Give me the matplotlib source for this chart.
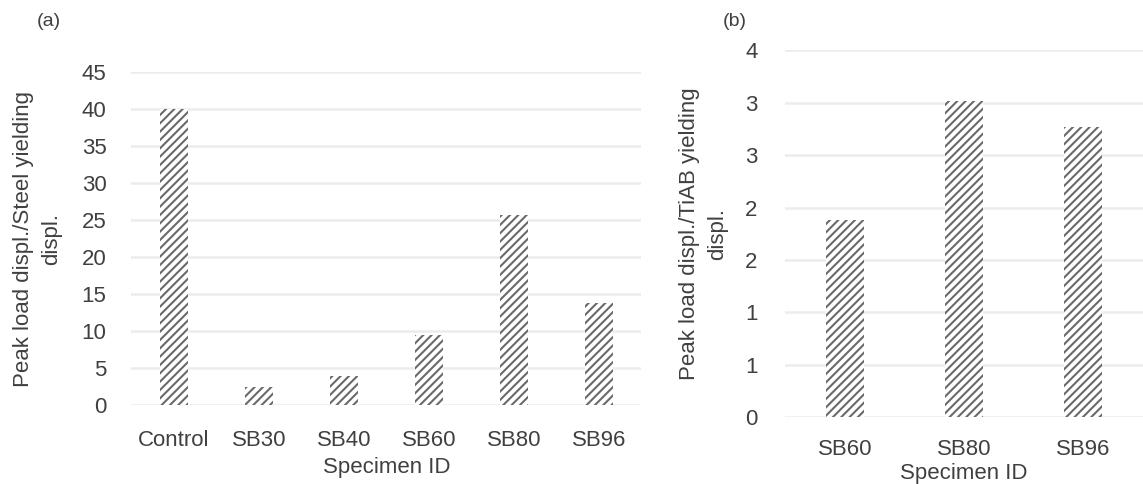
import numpy as np
import matplotlib
matplotlib.use("Agg")
import matplotlib.pyplot as plt
from matplotlib.ticker import MultipleLocator, FuncFormatter

# Ratio of peak-load displacement to steel yielding displacement
specimens_a = ["Control", "SB30", "SB40", "SB60", "SB80", "SB96"]
ratio_steel = [40.0, 2.4, 4.0, 9.5, 25.7, 13.8]

# Ratio of peak-load displacement to TiAB yielding displacement
specimens_b = ["SB60", "SB80", "SB96"]
ratio_tiab = [1.88, 3.02, 2.77]

plt.rcParams["font.family"] = ["Liberation Sans", "DejaVu Sans"]
plt.rcParams["hatch.linewidth"] = 1.5

TEXT = "#404040"
HATCH = "#6a6a6a"
GRID = "#ececec"

fig = plt.figure(figsize=(11.43, 4.84), dpi=100)
fig.patch.set_facecolor("white")


def style_axes(ax):
    for s in ax.spines.values():
        s.set_visible(False)
    ax.tick_params(axis="both", length=0, colors=TEXT, labelsize=16)
    ax.tick_params(axis="y", pad=18)
    ax.tick_params(axis="x", pad=18)
    ax.yaxis.grid(True, color=GRID, linewidth=1.8)
    ax.set_axisbelow(True)


# (a) steel yielding
ax1 = fig.add_axes([0.115, 0.163, 0.446, 0.688])
x1 = np.arange(len(specimens_a))
ax1.bar(x1, ratio_steel, width=0.33, facecolor="white", edgecolor=HATCH,
        hatch="////", linewidth=0)
ax1.set_xlim(-0.5, len(specimens_a) - 0.5)
ax1.set_ylim(0, 45)
ax1.yaxis.set_major_locator(MultipleLocator(5))
ax1.set_xticks(x1)
ax1.set_xticklabels(specimens_a)
style_axes(ax1)
ax1.set_xlabel("Specimen ID", fontsize=16, color=TEXT, labelpad=4)
ax1.set_ylabel("Peak load displ./Steel yielding\ndispl.", fontsize=16,
               color=TEXT, labelpad=14, linespacing=1.45)
fig.text(0.032, 0.955, "(a)", fontsize=14, color=TEXT, va="center")

# (b) TiAB yielding
ax2 = fig.add_axes([0.687, 0.138, 0.313, 0.758])
x2 = np.arange(len(specimens_b))
ax2.bar(x2, ratio_tiab, width=0.32, facecolor="white", edgecolor=HATCH,
        hatch="////", linewidth=0)
ax2.set_xlim(-0.5, len(specimens_b) - 0.5)
ax2.set_ylim(0, 3.5)
ax2.yaxis.set_major_locator(MultipleLocator(0.5))
# whole-number labels rounded half up
ax2.yaxis.set_major_formatter(FuncFormatter(lambda v, p: f"{int(np.floor(v + 0.5))}"))
ax2.set_xticks(x2)
ax2.set_xticklabels(specimens_b)
style_axes(ax2)
ax2.tick_params(axis="y", pad=20)
ax2.tick_params(axis="x", pad=16)
ax2.set_xlabel("Specimen ID", fontsize=16, color=TEXT, labelpad=2)
ax2.set_ylabel("Peak load displ./TiAB yielding\ndispl.", fontsize=16,
               color=TEXT, labelpad=12, linespacing=1.45)
fig.text(0.632, 0.955, "(b)", fontsize=14, color=TEXT, va="center")

fig.savefig("out.png", dpi=100, facecolor="white")
